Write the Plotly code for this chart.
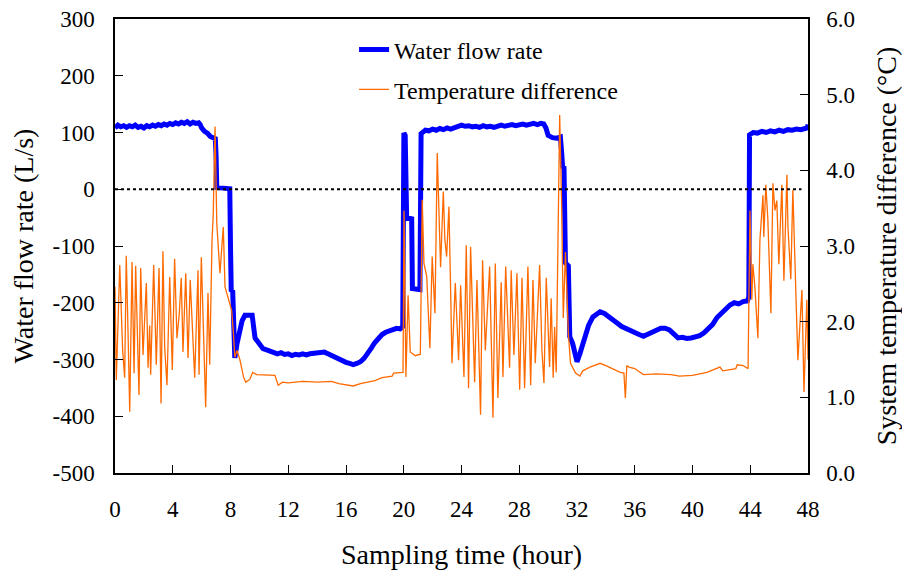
import plotly.graph_objects as go

# ---------------- data ----------------
flow_hours = [0.0, 0.2, 0.4, 0.6, 0.8, 1.0, 1.2, 1.4, 1.6, 1.8, 2.0, 2.2, 2.4, 2.6, 2.8, 3.0, 3.2,
              3.4, 3.6, 3.8, 4.0, 4.2, 4.4, 4.6, 4.8, 5.0, 5.2, 5.4, 5.6, 5.8, 5.9,
              6.0, 6.2, 6.4, 6.6, 6.8, 6.95, 7.0, 7.05, 7.5, 7.95, 8.0, 8.05, 8.15, 8.3, 8.45,
              8.6, 8.8, 9.0, 9.5, 9.7, 10.0, 10.25, 10.5, 10.75, 11.0, 11.25, 11.5, 11.75, 12.0,
              12.25, 12.5, 12.75, 13.0, 13.25, 13.5, 13.75, 14.0, 14.25, 14.5, 14.75, 15.0, 15.25,
              15.5, 15.75, 16.0, 16.25, 16.5, 16.75, 17.0, 17.25, 17.5, 17.75, 18.0, 18.25, 18.5,
              18.75, 19.0, 19.25, 19.5, 19.75, 19.93, 20.01, 20.1, 20.2, 20.55, 20.6, 21.12,
              21.2, 21.3, 21.5, 21.75, 22.0, 22.25, 22.5, 22.75, 23.0, 23.25, 23.5, 23.75, 24.0,
              24.25, 24.5, 24.75, 25.0, 25.25, 25.5, 25.75, 26.0, 26.25, 26.5, 26.75, 27.0, 27.25,
              27.5, 27.75, 28.0, 28.25, 28.5, 28.75, 29.0, 29.25, 29.5, 29.7, 29.85, 30.0, 30.3,
              30.6, 30.85, 30.95, 31.0, 31.1, 31.2, 31.4, 31.5, 31.7, 31.9, 32.0, 32.2, 32.5, 32.8,
              33.1, 33.4, 33.6, 33.9, 34.2, 34.5, 34.8, 35.1, 35.4, 35.7, 36.0, 36.3, 36.6, 36.9,
              37.2, 37.5, 37.8, 38.1, 38.4, 38.7, 39.0, 39.3, 39.6, 39.9, 40.2, 40.5, 40.8, 41.1,
              41.4, 41.7, 42.0, 42.3, 42.6, 42.9, 43.2, 43.5, 43.8, 43.9, 43.95, 44.2, 44.5, 44.8,
              45.1, 45.4, 45.7, 46.0, 46.3, 46.6, 46.9, 47.2, 47.5, 47.8, 47.95, 48.0]
flow_rate = [108, 113, 110, 112, 109, 112, 110, 113, 109, 111, 108, 112, 110, 113, 111, 114, 112,
             115, 113, 116, 114, 117, 115, 118, 116, 119, 115, 118, 116, 117, 114,
             108, 102, 99, 93, 91, 89, 60, 3, 2, 1, -100, -180, -178, -297, -272,
             -252, -232, -222, -222, -262, -272, -281, -283, -286, -287, -290, -288, -291, -290,
             -293, -291, -292, -290, -292, -290, -289, -288, -286, -287, -290, -293, -297,
             -301, -303, -305, -307, -309, -307, -304, -298, -290, -280, -270, -262, -256,
             -252, -249, -247, -245, -246, -242, 99, 95, -50, -52, -175, -177,
             98, 101, 104, 103, 106, 104, 107, 105, 108, 106, 109, 110, 113,
             111, 112, 110, 111, 109, 112, 110, 111, 109, 112, 113, 111, 112,
             114, 112, 113, 115, 113, 114, 116, 114, 116, 115, 108, 95, 91,
             90, 92, 60, 40, 38, -130, -135, -260, -272, -300, -304, -290, -265, -240,
             -225, -218, -216, -219, -224, -230, -236, -242, -246, -250, -253, -256, -259, -256,
             -252, -248, -245, -245, -248, -255, -262, -261, -263, -262, -261, -258, -253, -246,
             -238, -226, -218, -210, -204, -200, -202, -198, -197, -190, 96, 100, 99, 102,
             100, 103, 101, 104, 102, 105, 104, 106, 105, 107, 108, 114]

temp_hours = [0.00, 0.09, 0.33, 0.53, 0.67, 0.78, 0.90, 1.02, 1.18, 1.32, 1.43, 1.66, 1.78, 1.94,
              2.17, 2.29, 2.40, 2.47, 2.68, 2.86, 3.05, 3.19, 3.32, 3.44, 3.60, 3.79, 3.97, 4.13,
              4.29, 4.45, 4.59, 4.71, 4.90, 5.06, 5.21, 5.35, 5.52, 5.75, 5.82, 5.98, 6.14, 6.28,
              6.44, 6.56, 6.72, 6.80, 6.93, 7.05, 7.27, 7.50, 7.62, 7.85, 8.08, 8.20, 8.30, 8.45,
              8.66, 8.90, 9.05, 9.35, 9.53, 9.81, 10.5, 11.08, 11.30, 11.6, 12.0, 13.0, 14.0, 15.0,
              15.5, 16.0, 16.5, 17.0, 17.5, 18.0, 18.5, 19.2, 19.3, 19.95, 20.02, 20.15, 20.3,
              20.45, 20.8, 21.15, 21.28, 21.40, 21.59, 21.70, 21.81, 21.97, 22.16, 22.32, 22.46,
              22.55, 22.74, 22.85, 22.97, 23.13, 23.25, 23.34, 23.57, 23.80, 23.94, 24.17, 24.33,
              24.49, 24.63, 24.91, 25.07, 25.32, 25.46, 25.65, 25.95, 26.18, 26.34, 26.52, 26.75,
              26.87, 27.06, 27.22, 27.33, 27.44, 27.63, 27.84, 28.03, 28.19, 28.37, 28.60, 28.79,
              28.95, 29.11, 29.41, 29.57, 29.71, 29.87, 30.10, 30.21, 30.35, 30.45, 30.56, 30.68,
              30.80, 30.93, 31.05, 31.20, 31.40, 31.55, 31.90, 32.2, 32.4, 32.9, 33.6, 34.0, 34.5,
              35.0, 35.25, 35.35, 35.45, 35.6, 36.0, 36.6, 37.5, 38.5, 39.1, 40.0, 41.0, 41.9,
              42.1, 43.0, 43.1, 43.5, 43.85, 43.98, 44.11, 44.18, 44.32, 44.46, 44.53, 44.67,
              44.88, 44.94, 45.08, 45.22, 45.43, 45.57, 45.71, 45.84, 45.98, 46.19, 46.33, 46.54,
              46.61, 46.81, 46.95, 47.16, 47.30, 47.58, 47.72, 47.92, 48.0]
temp_diff = [2.46, 1.23, 2.75, 1.62, 1.26, 2.87, 1.89, 0.81, 2.79, 1.32, 2.74, 1.03, 2.71, 1.56,
             2.51, 1.39, 1.95, 1.30, 2.75, 1.43, 2.71, 0.92, 2.93, 1.67, 1.16, 2.59, 1.36, 2.83,
             1.78, 2.10, 2.58, 1.60, 2.64, 1.52, 2.55, 1.90, 1.26, 2.68, 1.30, 2.85, 1.67, 0.87,
             2.38, 1.43, 3.08, 3.39, 4.58, 3.30, 2.64, 3.25, 2.46, 2.29, 2.15, 1.85, 1.53, 1.62,
             1.49, 1.27, 1.20, 1.24, 1.33, 1.30, 1.29, 1.29, 1.16, 1.20, 1.19, 1.21, 1.20, 1.21,
             1.18, 1.17, 1.15, 1.18, 1.20, 1.22, 1.26, 1.28, 1.32, 1.33, 3.47, 1.27, 2.35,
             1.60, 1.55, 1.57, 3.61, 2.77, 2.60, 2.20, 1.65, 2.86, 2.11, 4.23, 3.08,
             2.72, 3.72, 3.08, 2.86, 3.52, 2.39, 1.45, 2.51, 1.49, 2.48, 1.27, 3.01,
             1.12, 2.99, 1.20, 2.55, 0.77, 2.81, 1.62, 2.73, 0.73, 2.77, 0.99, 2.52,
             1.27, 2.73, 1.78, 1.39, 2.68, 1.56, 2.64, 1.10, 2.58, 1.12, 2.73, 1.16,
             2.55, 1.45, 2.75, 1.62, 1.19, 2.58, 1.40, 2.31, 1.26, 1.93, 1.33, 3.21,
             4.73, 3.60, 2.05, 2.92, 1.85, 1.45, 1.32, 1.28, 1.35, 1.40, 1.45, 1.42, 1.37,
             1.33, 1.32, 0.99, 1.42, 1.40, 1.38, 1.30, 1.31, 1.30, 1.28, 1.29, 1.33, 1.40,
             1.35, 1.38, 1.43, 1.42, 1.38, 3.47, 2.29, 2.76, 2.46, 2.02, 1.78, 3.08,
             3.67, 3.12, 3.81, 3.35, 2.11, 3.83, 3.47, 3.60, 2.76, 3.81, 2.54, 3.94,
             3.25, 2.56, 3.74, 2.38, 1.49, 2.42, 1.07, 2.29, 1.50]

x_ticks = [0, 4, 8, 12, 16, 20, 24, 28, 32, 36, 40, 44, 48]
flow_ticks = [-500, -400, -300, -200, -100, 0, 100, 200, 300]
flow_tick_text = ["-500", "-400", "-300", "-200", "-100", "0", "100", "200", "300"]
temp_ticks = [0, 1, 2, 3, 4, 5, 6]
temp_tick_text = ["0.0", "1.0", "2.0", "3.0", "4.0", "5.0", "6.0"]

# ---------------- figure ----------------
FONT = "Liberation Serif"
TICK_SIZE = 23
TITLE_SIZE = 28

fig = go.Figure()
fig.add_trace(go.Scatter(x=flow_hours, y=flow_rate, mode="lines", name="Water flow rate",
                         line=dict(color="#0000FF", width=5), yaxis="y", legend="legend",
                         showlegend=True))
fig.add_trace(go.Scatter(x=temp_hours, y=temp_diff, mode="lines", name="Temperature difference",
                         line=dict(color="#FF6A00", width=1.3), yaxis="y2", legend="legend2",
                         showlegend=True))

fig.add_shape(type="line", xref="x", yref="y", x0=0, x1=47.55, y0=0, y1=0,
              line=dict(color="black", width=2, dash="dot"))

axis_common = dict(showgrid=False, zeroline=False, showline=True, linecolor="black", linewidth=1.5,
                   ticks="inside", ticklen=8, tickwidth=1.2, tickcolor="black", automargin=False,
                   ticklabeloverflow="allow",
                   tickfont=dict(family=FONT, size=TICK_SIZE, color="black"))

# the page body adds an 8px offset, margins compensate so the plot sits at 115..808 x 19..473
fig.update_layout(
    width=910, height=576,
    margin=dict(l=107, r=110, t=11, b=111),
    paper_bgcolor="white", plot_bgcolor="white",
    font=dict(family=FONT, color="black"),
    showlegend=True,
    xaxis=dict(range=[0, 48], tickvals=x_ticks, mirror=True, ticklabelstandoff=15,
               title=dict(text="Sampling time (hour)", font=dict(family=FONT, size=TITLE_SIZE),
                          standoff=23),
               **axis_common),
    yaxis=dict(range=[-500, 300], tickvals=flow_ticks, ticktext=flow_tick_text, ticklabelstandoff=14,
               title=dict(text="Water flow rate (L/s)", font=dict(family=FONT, size=TITLE_SIZE),
                          standoff=12),
               **axis_common),
    yaxis2=dict(range=[0, 6], tickvals=temp_ticks, ticktext=temp_tick_text, overlaying="y",
                side="right", ticklabelstandoff=12,
                title=dict(text="System temperature difference (°C)",
                           font=dict(family=FONT, size=TITLE_SIZE), standoff=22),
                **axis_common),
    legend=dict(x=0.345, xanchor="left", y=0.932, yanchor="middle", bgcolor="rgba(0,0,0,0)",
                font=dict(family=FONT, size=24, color="black")),
    legend2=dict(x=0.345, xanchor="left", y=0.844, yanchor="middle", bgcolor="rgba(0,0,0,0)",
                 font=dict(family=FONT, size=24, color="black")),
)

fig.write_html("out.html")
